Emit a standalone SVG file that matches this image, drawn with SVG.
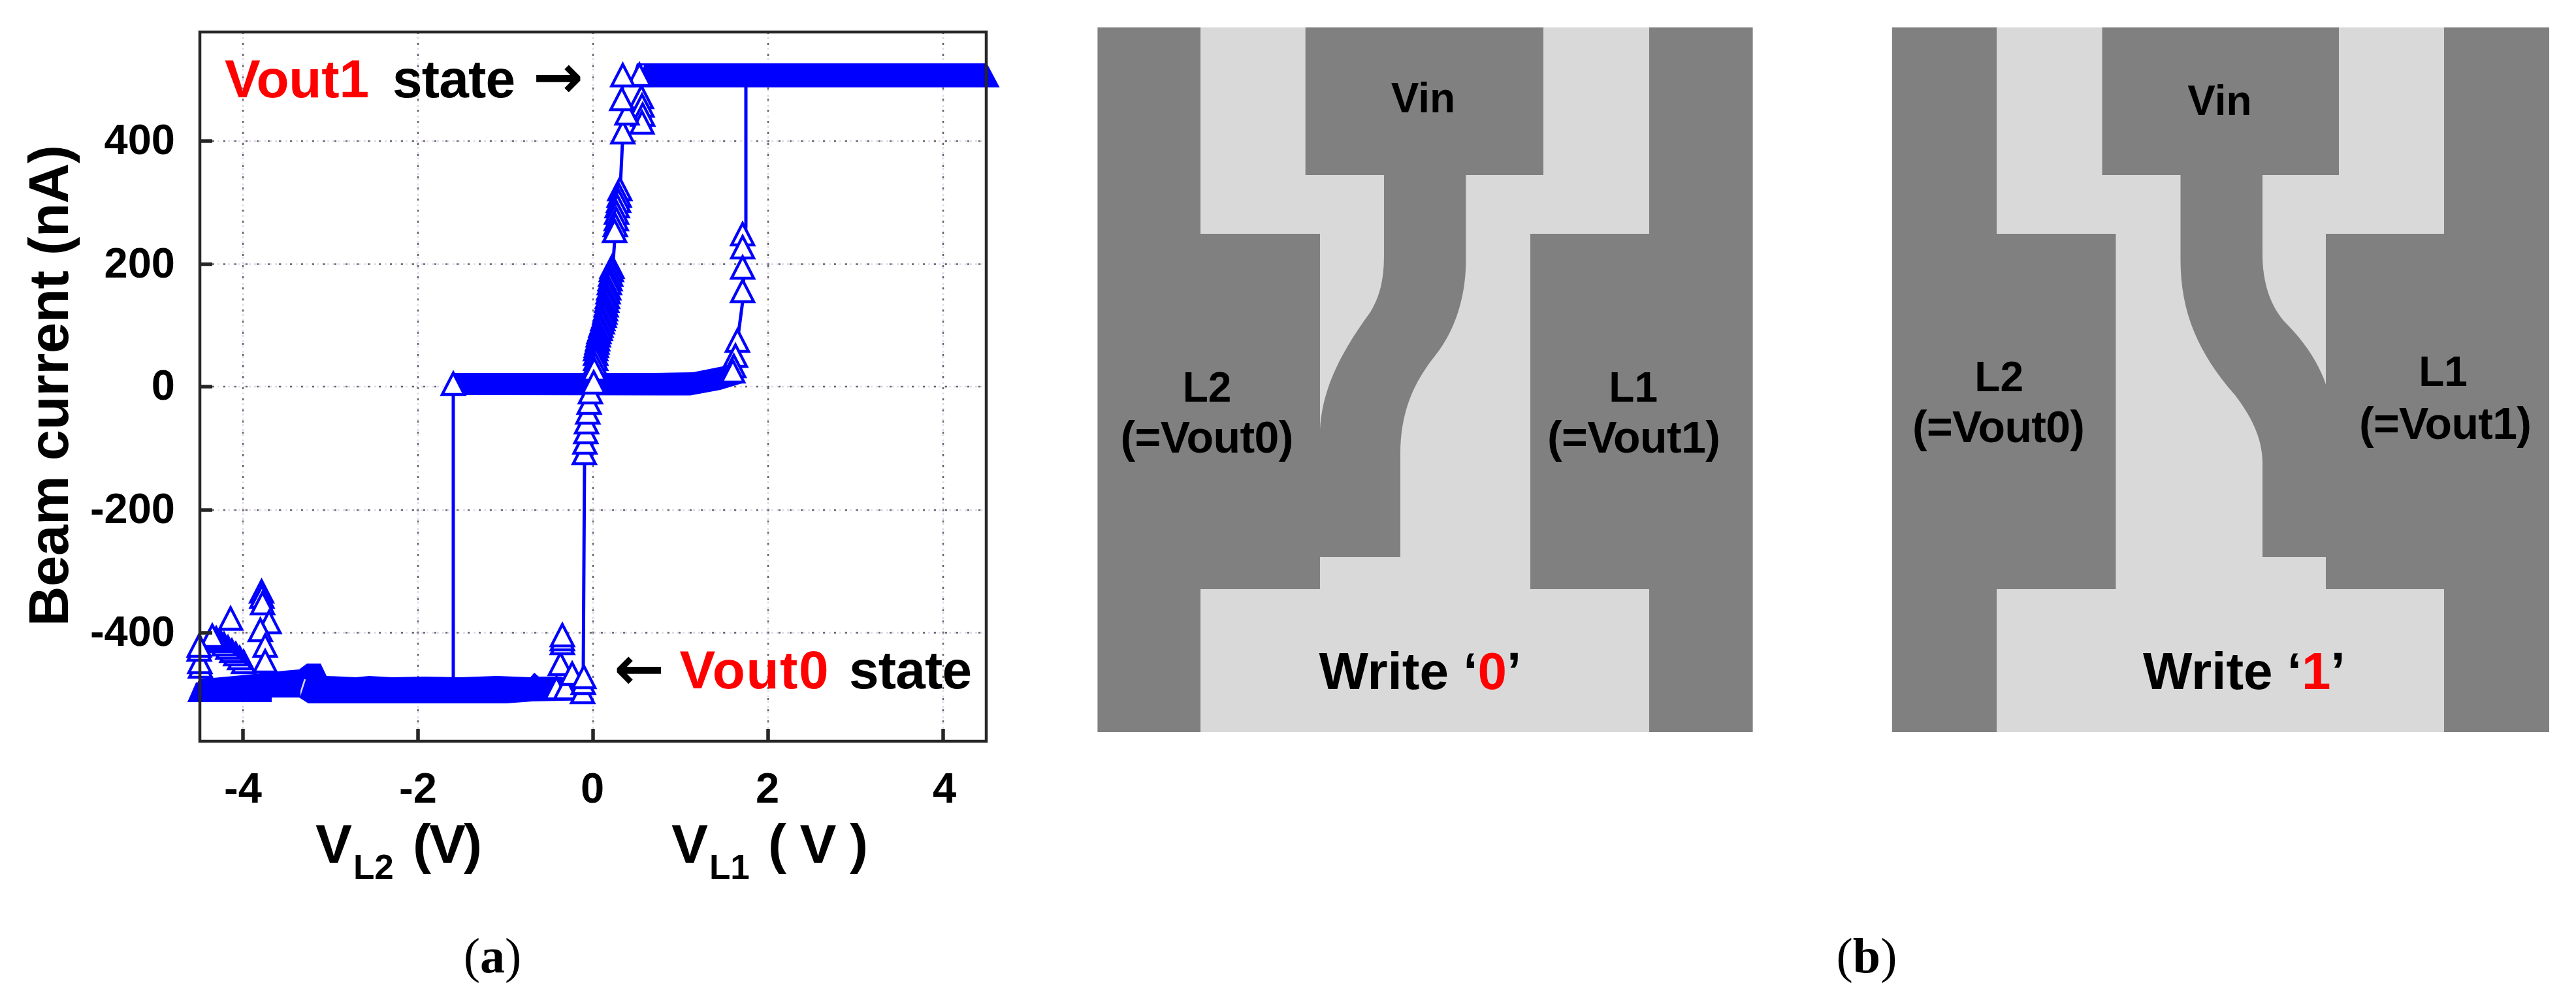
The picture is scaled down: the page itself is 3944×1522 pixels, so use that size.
<svg xmlns="http://www.w3.org/2000/svg" xmlns:xlink="http://www.w3.org/1999/xlink" width="3944" height="1522" viewBox="0 0 3944 1522">
<style>
text{font-family:"Liberation Sans",Arial,sans-serif;font-weight:700;fill:#000}
.cap{font-family:"Liberation Serif","Times New Roman",serif;font-weight:400;font-size:76px}
.cap tspan{font-weight:700}
.tick{font-size:65px}
.ann{font-size:82px}
.arr{font-family:"DejaVu Sans",sans-serif;font-size:92px}
.red{fill:#ff0000}
.dev{font-size:64px;text-anchor:middle}
.devw{font-size:68px}
.wr{font-size:80px}
.dark{fill:#808080}
.light{fill:#d9d9d9}
.gl{stroke:#e2d8ee;stroke-width:2.5;stroke-dasharray:3 5;fill:none}
.gd{stroke:#666;stroke-width:2.5;stroke-dasharray:3 14;fill:none}
.ax{stroke:#262626;fill:none}
.b{fill:#0000ff}
.ln{fill:none;stroke:#0000ff;stroke-width:5}
.tri{fill:#fff;stroke:#0000ff;stroke-width:4.4}
</style>
<defs><path id="t" class="tri" d="M0-33L17 0H-17Z"/></defs>
<rect width="3944" height="1522" fill="#fff"/>
<g id="plot-grid">
<path class="gl" d="M325 216H1510M325 404.6H1510M325 592H1510M325 781H1510M325 969H1510M372 49V1116M640 49V1116M908 49V1116M1176 49V1116M1444 49V1116"/>
<path class="gd" d="M325 216H1510M325 404.6H1510M325 592H1510M325 781H1510M325 969H1510M372 49V1116M640 49V1116M908 49V1116M1176 49V1116M1444 49V1116"/>
</g>
<g id="plot-data">
<path class="ln" d="M694 600V1040M895 700L893 1030M1142 130V345L1137 462L1130 515L1123 585M953 131L953 219L949 300L941 370L937 425L920 520L908 600"/>
<path class="b" d="M690 605L694 571H1000L1061 570L1111 560L1125 575L1136 587L1103 597L1057 605.5Z"/>
<path class="b" d="M287 1075L305 1040L380 1033L435 1027L458 1025L470 1016L491 1016L500 1035L545 1037L565 1035L600 1037L650 1036L705 1037L760 1035L812 1037L818 1030L825 1036L860 1036L905 1068V1072L815 1074L775 1077H472L458 1068H416V1075Z"/>
<path class="b" d="M963 133.700L975 97H1511L1530.500 133.700Z"/>
<path d="M467 1040L458 1068M985 100L972 132" stroke="#d8d8ff" stroke-width="2.500" fill="none"/>
<use xlink:href="#t" href="#t" x="1137" y="375"/><use xlink:href="#t" href="#t" x="1137" y="395"/><use xlink:href="#t" href="#t" x="1137" y="426"/><use xlink:href="#t" href="#t" x="1137" y="462"/>
<use xlink:href="#t" href="#t" x="1129" y="538"/><use xlink:href="#t" href="#t" x="1126" y="561"/><use xlink:href="#t" href="#t" x="1123.500" y="577"/><use xlink:href="#t" href="#t" x="1122" y="585"/>
<use xlink:href="#t" href="#t" x="982" y="165"/><use xlink:href="#t" href="#t" x="983" y="178"/><use xlink:href="#t" href="#t" x="984" y="192"/><use xlink:href="#t" href="#t" x="983" y="204"/>
<use xlink:href="#t" href="#t" x="979" y="131"/>
<use xlink:href="#t" href="#t" x="953.500" y="219"/><use xlink:href="#t" href="#t" x="960" y="190"/><use xlink:href="#t" href="#t" x="952" y="168"/><use xlink:href="#t" href="#t" x="953.500" y="131.600"/>
<use xlink:href="#t" href="#t" x="949" y="306"/><use xlink:href="#t" href="#t" x="948" y="316"/><use xlink:href="#t" href="#t" x="947" y="324"/><use xlink:href="#t" href="#t" x="945" y="332"/><use xlink:href="#t" href="#t" x="944" y="342"/><use xlink:href="#t" href="#t" x="943.600" y="352"/><use xlink:href="#t" href="#t" x="942" y="361"/><use xlink:href="#t" href="#t" x="941" y="370"/>
<use xlink:href="#t" href="#t" x="937" y="425"/><use xlink:href="#t" href="#t" x="936" y="430"/><use xlink:href="#t" href="#t" x="935" y="437"/><use xlink:href="#t" href="#t" x="934" y="444"/><use xlink:href="#t" href="#t" x="933" y="450"/><use xlink:href="#t" href="#t" x="932" y="458"/><use xlink:href="#t" href="#t" x="931" y="464"/><use xlink:href="#t" href="#t" x="930" y="471"/><use xlink:href="#t" href="#t" x="929" y="477"/><use xlink:href="#t" href="#t" x="928" y="484"/><use xlink:href="#t" href="#t" x="927" y="490"/><use xlink:href="#t" href="#t" x="926" y="495"/><use xlink:href="#t" href="#t" x="925" y="500"/><use xlink:href="#t" href="#t" x="923" y="505"/><use xlink:href="#t" href="#t" x="922" y="510"/><use xlink:href="#t" href="#t" x="920" y="515"/><use xlink:href="#t" href="#t" x="919" y="520"/><use xlink:href="#t" href="#t" x="917" y="525"/><use xlink:href="#t" href="#t" x="916" y="530"/><use xlink:href="#t" href="#t" x="915" y="536"/><use xlink:href="#t" href="#t" x="914" y="541"/><use xlink:href="#t" href="#t" x="913" y="546"/><use xlink:href="#t" href="#t" x="912" y="551"/><use xlink:href="#t" href="#t" x="912" y="558"/><use xlink:href="#t" href="#t" x="912" y="566"/><use xlink:href="#t" href="#t" x="911" y="574"/><use xlink:href="#t" href="#t" x="910" y="582"/>
<use xlink:href="#t" href="#t" x="894.600" y="710"/><use xlink:href="#t" href="#t" x="895.500" y="694"/><use xlink:href="#t" href="#t" x="897" y="678"/><use xlink:href="#t" href="#t" x="898" y="663"/><use xlink:href="#t" href="#t" x="900" y="648"/><use xlink:href="#t" href="#t" x="902" y="633"/><use xlink:href="#t" href="#t" x="904" y="617"/><use xlink:href="#t" href="#t" x="909" y="602"/>
<use xlink:href="#t" href="#t" x="694" y="604"/>
<use xlink:href="#t" href="#t" x="400.500" y="922"/><use xlink:href="#t" href="#t" x="401" y="930"/><use xlink:href="#t" href="#t" x="402" y="940"/>
<use xlink:href="#t" href="#t" x="412" y="969"/><use xlink:href="#t" href="#t" x="398.600" y="981"/><use xlink:href="#t" href="#t" x="406" y="1005"/><use xlink:href="#t" href="#t" x="406" y="1029"/>
<use xlink:href="#t" href="#t" x="353" y="963.500"/>
<use xlink:href="#t" href="#t" x="373" y="1030"/><use xlink:href="#t" href="#t" x="367" y="1024"/><use xlink:href="#t" href="#t" x="361" y="1018"/><use xlink:href="#t" href="#t" x="355" y="1013"/><use xlink:href="#t" href="#t" x="349" y="1008"/><use xlink:href="#t" href="#t" x="343" y="1003"/><use xlink:href="#t" href="#t" x="337" y="998"/><use xlink:href="#t" href="#t" x="331" y="994"/><use xlink:href="#t" href="#t" x="325" y="990"/>
<use xlink:href="#t" href="#t" x="307" y="1037"/><use xlink:href="#t" href="#t" x="306" y="1030"/><use xlink:href="#t" href="#t" x="305" y="1011"/><use xlink:href="#t" href="#t" x="305" y="1005"/>
<use xlink:href="#t" href="#t" x="858" y="1033"/><use xlink:href="#t" href="#t" x="861" y="1001"/><use xlink:href="#t" href="#t" x="861" y="995"/><use xlink:href="#t" href="#t" x="861" y="989"/>
<use xlink:href="#t" href="#t" x="852" y="1070"/><use xlink:href="#t" href="#t" x="866" y="1070"/><use xlink:href="#t" href="#t" x="876" y="1048"/>
<use xlink:href="#t" href="#t" x="892" y="1076"/><use xlink:href="#t" href="#t" x="893" y="1062"/><use xlink:href="#t" href="#t" x="894" y="1053"/>
<path class="b" d="M287 1075L300 1045H460V1068H416V1075Z"/>
</g>
<g id="plot-axes">
<rect class="ax" x="306" y="49" width="1204" height="1086" stroke-width="4.500"/>
<path class="ax" stroke-width="5.500" d="M306 216H325M306 404.600H325M306 592H325M306 781H325M306 969H325M372 1135V1116M640 1135V1116M908 1135V1116M1176 1135V1116M1444 1135V1116"/>
</g>
<g id="plot-labels">
<text class="tick" x="268" y="236" text-anchor="end">400</text>
<text class="tick" x="268" y="424.500" text-anchor="end">200</text>
<text class="tick" x="268" y="612" text-anchor="end">0</text>
<text class="tick" x="268" y="801" text-anchor="end">-200</text>
<text class="tick" x="268" y="989" text-anchor="end">-400</text>
<text class="tick" x="372" y="1229" text-anchor="middle">-4</text>
<text class="tick" x="640" y="1229" text-anchor="middle">-2</text>
<text class="tick" x="907" y="1229" text-anchor="middle">0</text>
<text class="tick" x="1175" y="1229" text-anchor="middle">2</text>
<text class="tick" x="1446" y="1229" text-anchor="middle">4</text>
<text transform="translate(104 590.500) rotate(-90)" text-anchor="middle" font-size="85" textLength="737">Beam current (nA)</text>
<text x="483" y="1320.600" font-size="84">V</text><text x="541" y="1346.400" font-size="53">L2</text><text x="632" y="1320.600" font-size="84" textLength="106">(V)</text>
<text x="1028" y="1320.600" font-size="84">V</text><text x="1086" y="1346.400" font-size="53">L1</text><text x="1176" y="1320.600" font-size="84" textLength="153">( V )</text>
<text class="ann red" x="344" y="149" textLength="221">Vout1</text>
<text class="ann" x="601" y="149" textLength="188">state</text>
<text class="arr" x="816" y="149">→</text>
<text class="arr" x="940" y="1055">←</text>
<text class="ann red" x="1040.600" y="1053.500" textLength="228">Vout0</text>
<text class="ann" x="1300" y="1053.500" textLength="188">state</text>
<text class="cap" x="754" y="1489" text-anchor="middle">(<tspan>a</tspan>)</text>
<text class="cap" x="2858" y="1489" text-anchor="middle">(<tspan>b</tspan>)</text>
</g>
<g id="device-write0">
<rect class="dark" x="1680.400" y="42" width="1003.200" height="1079"/>
<rect class="light" x="1838" y="42" width="687" height="1079"/>
<path class="dark" d="M1998.700 42H2363V268H2244.400V398C2244.400 460 2225 510 2197 545C2165 585 2144 630 2144 696V853H2021V902H1838V358H2021V658C2024 590 2060 530 2098 478C2112 455 2119 430 2119 390V268H1998.700Z"/>
<rect class="dark" x="2343" y="358" width="182" height="544"/>
<text class="dev" x="2179" y="172">Vin</text>
<text class="dev" x="1848" y="614.500">L2</text>
<text class="dev devw" x="1848" y="692.600" textLength="265">(=Vout0)</text>
<text class="dev" x="2500.700" y="614.500">L1</text>
<text class="dev devw" x="2501.500" y="692.600" textLength="265">(=Vout1)</text>
<text class="wr" x="2019.400" y="1054.600">Write ‘<tspan class="red">0</tspan>’</text>
</g>
<g id="device-write1">
<rect class="dark" x="2896.800" y="42" width="1006.200" height="1079"/>
<rect class="light" x="3057" y="42" width="685" height="1079"/>
<rect class="dark" x="3057" y="358" width="182.400" height="544"/>
<path class="dark" d="M3218.500 42H3581V268H3464V390C3464 430 3475 470 3502 497C3530 525 3552 560 3561 589V358H3742V902H3561V853H3464V708C3464 670 3445 635 3422 605C3360 535 3338.500 470 3338.500 398V268H3218.500Z"/>
<text class="dev" x="3398.500" y="176">Vin</text>
<text class="dev" x="3060.700" y="598.500">L2</text>
<text class="dev devw" x="3060" y="677" textLength="264">(=Vout0)</text>
<text class="dev" x="3740.600" y="591">L1</text>
<text class="dev devw" x="3744" y="672" textLength="264">(=Vout1)</text>
<text class="wr" x="3281" y="1054.600">Write ‘<tspan class="red">1</tspan>’</text>
</g>
</svg>
